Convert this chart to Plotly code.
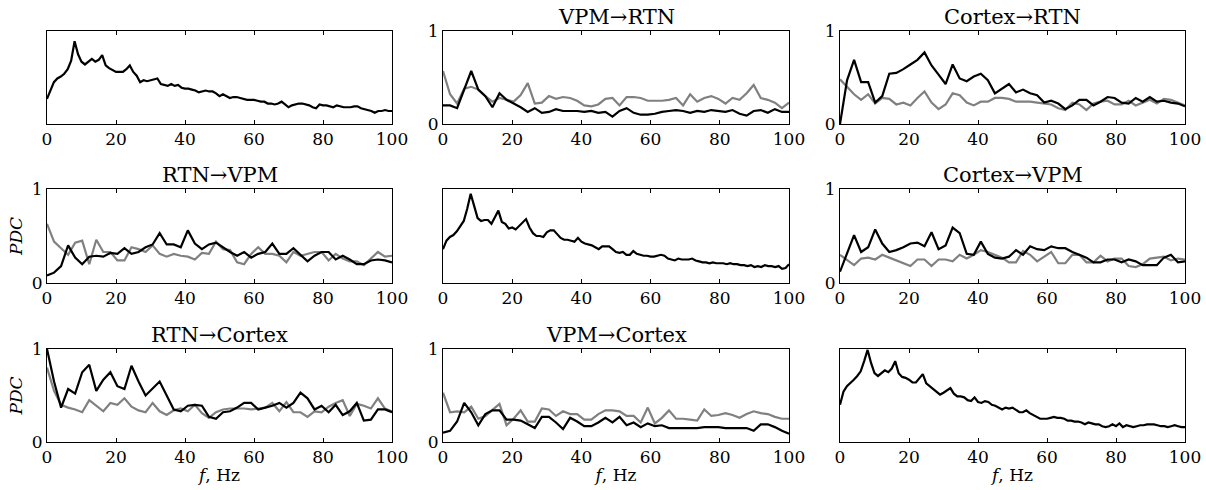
import numpy as np
import plotly.graph_objects as go

# ---------------------------------------------------------------
# data
# ---------------------------------------------------------------
freq_spec = np.arange(0, 101)          # 1 Hz grid for the spectra
freq_pdc = np.linspace(0, 100, 50)     # PDC frequency grid

# power spectra on the diagonal (normalised, no y scale shown)
spec_vpm = [0.27, 0.37, 0.45, 0.49, 0.51, 0.54, 0.59, 0.68, 0.89, 0.75,
            0.67, 0.64, 0.67, 0.70, 0.67, 0.69, 0.74, 0.63, 0.60, 0.58,
            0.56, 0.56, 0.56, 0.59, 0.63, 0.56, 0.52, 0.45, 0.47, 0.46,
            0.47, 0.48, 0.49, 0.43, 0.42, 0.41, 0.43, 0.41, 0.42, 0.39,
            0.38, 0.38, 0.37, 0.36, 0.34, 0.35, 0.36, 0.35, 0.35, 0.33,
            0.30, 0.32, 0.30, 0.28, 0.29, 0.29, 0.28, 0.27, 0.26, 0.26,
            0.26, 0.25, 0.24, 0.24, 0.22, 0.22, 0.21, 0.22, 0.24, 0.21,
            0.18, 0.20, 0.21, 0.22, 0.22, 0.21, 0.20, 0.18, 0.17, 0.21,
            0.20, 0.20, 0.19, 0.18, 0.20, 0.19, 0.18, 0.18, 0.18, 0.19,
            0.19, 0.17, 0.16, 0.15, 0.14, 0.12, 0.14, 0.14, 0.15, 0.14,
            0.14]
spec_rtn = [0.36, 0.45, 0.49, 0.51, 0.55, 0.61, 0.66, 0.79, 0.95, 0.82,
            0.69, 0.66, 0.67, 0.67, 0.63, 0.70, 0.77, 0.65, 0.63, 0.58,
            0.59, 0.57, 0.61, 0.64, 0.68, 0.59, 0.53, 0.50, 0.50, 0.49,
            0.54, 0.56, 0.56, 0.52, 0.48, 0.46, 0.46, 0.45, 0.44, 0.48,
            0.44, 0.42, 0.41, 0.40, 0.38, 0.36, 0.39, 0.39, 0.39, 0.36,
            0.33, 0.32, 0.33, 0.30, 0.30, 0.34, 0.31, 0.30, 0.29, 0.29,
            0.28, 0.28, 0.29, 0.30, 0.29, 0.26, 0.25, 0.24, 0.26, 0.25,
            0.25, 0.25, 0.26, 0.24, 0.23, 0.22, 0.22, 0.21, 0.22, 0.21,
            0.21, 0.21, 0.20, 0.21, 0.20, 0.20, 0.19, 0.19, 0.18, 0.19,
            0.17, 0.18, 0.17, 0.19, 0.18, 0.18, 0.17, 0.18, 0.15, 0.16,
            0.20]
spec_ctx = [0.40, 0.54, 0.60, 0.63, 0.67, 0.71, 0.76, 0.87, 0.99, 0.85,
            0.74, 0.71, 0.74, 0.77, 0.75, 0.79, 0.87, 0.74, 0.70, 0.69,
            0.67, 0.64, 0.64, 0.69, 0.73, 0.63, 0.60, 0.57, 0.54, 0.51,
            0.53, 0.56, 0.58, 0.52, 0.49, 0.49, 0.48, 0.45, 0.44, 0.48,
            0.43, 0.42, 0.44, 0.43, 0.40, 0.39, 0.37, 0.35, 0.37, 0.36,
            0.37, 0.34, 0.32, 0.32, 0.34, 0.31, 0.29, 0.27, 0.25, 0.25,
            0.25, 0.26, 0.27, 0.26, 0.26, 0.25, 0.23, 0.23, 0.22, 0.22,
            0.21, 0.19, 0.21, 0.20, 0.19, 0.19, 0.17, 0.16, 0.17, 0.19,
            0.17, 0.20, 0.16, 0.18, 0.17, 0.16, 0.17, 0.18, 0.18, 0.19,
            0.19, 0.19, 0.18, 0.17, 0.17, 0.16, 0.17, 0.18, 0.17, 0.16,
            0.16]

# PDC, black = model, gray = reference
vpm_rtn_black = [0.20, 0.20, 0.17, 0.38, 0.57, 0.37, 0.30, 0.18, 0.33, 0.26,
                 0.22, 0.18, 0.13, 0.17, 0.12, 0.13, 0.16, 0.14, 0.14, 0.14,
                 0.13, 0.14, 0.12, 0.13, 0.08, 0.14, 0.17, 0.12, 0.10, 0.10,
                 0.11, 0.13, 0.14, 0.15, 0.14, 0.12, 0.14, 0.13, 0.15, 0.14,
                 0.13, 0.15, 0.11, 0.09, 0.14, 0.15, 0.12, 0.16, 0.13, 0.13]
vpm_rtn_gray = [0.57, 0.32, 0.22, 0.38, 0.40, 0.37, 0.30, 0.24, 0.28, 0.26,
                0.24, 0.31, 0.44, 0.22, 0.23, 0.30, 0.27, 0.29, 0.28, 0.25,
                0.20, 0.19, 0.21, 0.27, 0.28, 0.20, 0.29, 0.29, 0.28, 0.25,
                0.25, 0.25, 0.26, 0.28, 0.20, 0.32, 0.24, 0.28, 0.30, 0.27,
                0.22, 0.28, 0.26, 0.33, 0.42, 0.28, 0.26, 0.23, 0.17, 0.23]

ctx_rtn_black = [0.00, 0.47, 0.69, 0.45, 0.45, 0.23, 0.30, 0.54, 0.55, 0.59,
                 0.64, 0.69, 0.77, 0.63, 0.53, 0.43, 0.64, 0.49, 0.46, 0.51,
                 0.54, 0.47, 0.33, 0.38, 0.43, 0.34, 0.37, 0.33, 0.31, 0.23,
                 0.25, 0.22, 0.16, 0.20, 0.26, 0.26, 0.20, 0.24, 0.29, 0.28,
                 0.23, 0.22, 0.28, 0.24, 0.29, 0.24, 0.25, 0.23, 0.22, 0.19]
ctx_rtn_gray = [0.48, 0.40, 0.32, 0.26, 0.32, 0.22, 0.28, 0.27, 0.21, 0.23,
                0.20, 0.28, 0.35, 0.23, 0.16, 0.21, 0.33, 0.31, 0.23, 0.20,
                0.24, 0.24, 0.28, 0.28, 0.27, 0.24, 0.24, 0.24, 0.23, 0.22,
                0.21, 0.17, 0.15, 0.23, 0.21, 0.15, 0.22, 0.24, 0.25, 0.21,
                0.21, 0.25, 0.20, 0.23, 0.26, 0.22, 0.27, 0.26, 0.23, 0.20]

rtn_vpm_black = [0.08, 0.11, 0.18, 0.40, 0.27, 0.20, 0.28, 0.29, 0.28, 0.32,
                 0.31, 0.37, 0.31, 0.33, 0.38, 0.41, 0.53, 0.41, 0.41, 0.38,
                 0.56, 0.42, 0.36, 0.41, 0.43, 0.38, 0.33, 0.29, 0.33, 0.27,
                 0.31, 0.33, 0.42, 0.31, 0.31, 0.37, 0.30, 0.23, 0.29, 0.33,
                 0.33, 0.25, 0.29, 0.25, 0.20, 0.20, 0.24, 0.25, 0.24, 0.22]
rtn_vpm_gray = [0.63, 0.44, 0.37, 0.30, 0.43, 0.45, 0.20, 0.46, 0.33, 0.33,
                0.24, 0.24, 0.38, 0.36, 0.33, 0.40, 0.31, 0.28, 0.31, 0.29,
                0.28, 0.25, 0.32, 0.31, 0.44, 0.36, 0.35, 0.22, 0.20, 0.31,
                0.38, 0.31, 0.31, 0.29, 0.22, 0.33, 0.29, 0.31, 0.33, 0.33,
                0.24, 0.31, 0.26, 0.23, 0.23, 0.19, 0.26, 0.33, 0.28, 0.29]

ctx_vpm_black = [0.12, 0.32, 0.51, 0.33, 0.38, 0.57, 0.42, 0.33, 0.35, 0.38,
                 0.42, 0.43, 0.39, 0.54, 0.36, 0.40, 0.59, 0.53, 0.31, 0.30,
                 0.44, 0.31, 0.27, 0.26, 0.28, 0.35, 0.30, 0.39, 0.36, 0.35,
                 0.39, 0.37, 0.37, 0.33, 0.30, 0.27, 0.22, 0.22, 0.25, 0.25,
                 0.22, 0.25, 0.23, 0.19, 0.19, 0.19, 0.27, 0.30, 0.22, 0.23]
ctx_vpm_gray = [0.30, 0.24, 0.19, 0.26, 0.27, 0.25, 0.30, 0.27, 0.24, 0.21,
                0.18, 0.25, 0.25, 0.18, 0.25, 0.25, 0.23, 0.30, 0.26, 0.30,
                0.35, 0.33, 0.30, 0.27, 0.22, 0.22, 0.34, 0.30, 0.23, 0.28,
                0.33, 0.21, 0.21, 0.30, 0.30, 0.22, 0.22, 0.29, 0.23, 0.26,
                0.26, 0.18, 0.17, 0.20, 0.26, 0.27, 0.28, 0.24, 0.26, 0.25]

rtn_ctx_black = [1.00, 0.65, 0.37, 0.57, 0.52, 0.75, 0.83, 0.55, 0.67, 0.75,
                 0.60, 0.57, 0.82, 0.65, 0.50, 0.57, 0.65, 0.50, 0.35, 0.33,
                 0.39, 0.40, 0.39, 0.27, 0.25, 0.32, 0.33, 0.37, 0.42, 0.42,
                 0.35, 0.37, 0.39, 0.42, 0.37, 0.42, 0.53, 0.47, 0.35, 0.39,
                 0.32, 0.40, 0.29, 0.33, 0.42, 0.23, 0.24, 0.35, 0.35, 0.32]
rtn_ctx_gray = [0.80, 0.55, 0.40, 0.37, 0.35, 0.32, 0.45, 0.39, 0.33, 0.42,
                0.40, 0.47, 0.38, 0.34, 0.32, 0.42, 0.33, 0.29, 0.34, 0.36,
                0.33, 0.40, 0.31, 0.26, 0.32, 0.35, 0.36, 0.36, 0.36, 0.35,
                0.36, 0.37, 0.42, 0.33, 0.43, 0.32, 0.32, 0.27, 0.33, 0.32,
                0.38, 0.42, 0.45, 0.28, 0.41, 0.39, 0.36, 0.47, 0.36, 0.33]

vpm_ctx_black = [0.10, 0.12, 0.22, 0.42, 0.32, 0.18, 0.30, 0.34, 0.34, 0.24,
                 0.24, 0.23, 0.19, 0.15, 0.27, 0.27, 0.21, 0.14, 0.26, 0.22,
                 0.17, 0.17, 0.21, 0.26, 0.21, 0.27, 0.18, 0.21, 0.16, 0.20,
                 0.17, 0.18, 0.15, 0.15, 0.15, 0.15, 0.15, 0.16, 0.16, 0.16,
                 0.15, 0.15, 0.15, 0.15, 0.12, 0.19, 0.19, 0.16, 0.12, 0.09]
vpm_ctx_gray = [0.53, 0.32, 0.33, 0.32, 0.38, 0.25, 0.28, 0.35, 0.41, 0.18,
                0.25, 0.34, 0.22, 0.22, 0.36, 0.35, 0.28, 0.33, 0.30, 0.30,
                0.24, 0.24, 0.30, 0.34, 0.34, 0.33, 0.28, 0.28, 0.21, 0.37,
                0.20, 0.26, 0.34, 0.25, 0.25, 0.24, 0.23, 0.35, 0.28, 0.29,
                0.31, 0.29, 0.26, 0.30, 0.33, 0.31, 0.30, 0.27, 0.25, 0.25]

x_ticks = [0, 20, 40, 60, 80, 100]

# ---------------------------------------------------------------
# grid layout: (row, col) -> panel content
# ---------------------------------------------------------------
W, H = 1206, 490
col_px = [(47, 392), (443, 789), (840, 1185)]
row_px = [(31, 124), (189, 283), (349, 442)]

panels = {
    (0, 0): ("", spec_vpm, None),
    (0, 1): ("VPM→RTN", vpm_rtn_black, vpm_rtn_gray),
    (0, 2): ("Cortex→RTN", ctx_rtn_black, ctx_rtn_gray),
    (1, 0): ("RTN→VPM", rtn_vpm_black, rtn_vpm_gray),
    (1, 1): ("", spec_rtn, None),
    (1, 2): ("Cortex→VPM", ctx_vpm_black, ctx_vpm_gray),
    (2, 0): ("RTN→Cortex", rtn_ctx_black, rtn_ctx_gray),
    (2, 1): ("VPM→Cortex", vpm_ctx_black, vpm_ctx_gray),
    (2, 2): ("", spec_ctx, None),
}

FONT = "DejaVu Serif"
TICK_SIZE = 17
fig = go.Figure()
annotations = []

k = 0
for (r, c), (title, black, gray) in panels.items():
    k += 1
    xa = "x" if k == 1 else f"x{k}"
    ya = "y" if k == 1 else f"y{k}"
    is_spec = gray is None

    if is_spec:
        fig.add_trace(go.Scatter(x=freq_spec, y=black, mode="lines",
                                 line=dict(color="black", width=2.2),
                                 xaxis=xa, yaxis=ya, showlegend=False))
    else:
        fig.add_trace(go.Scatter(x=freq_pdc, y=gray, mode="lines",
                                 line=dict(color="#808080", width=2.2),
                                 xaxis=xa, yaxis=ya, showlegend=False))
        fig.add_trace(go.Scatter(x=freq_pdc, y=black, mode="lines",
                                 line=dict(color="black", width=2.2),
                                 xaxis=xa, yaxis=ya, showlegend=False))

    x0, x1 = col_px[c]
    y0, y1 = row_px[r]
    xdom = [x0 / W, x1 / W]
    ydom = [1 - y1 / H, 1 - y0 / H]

    xaxis = dict(domain=xdom, anchor=ya, range=[0, 100], tickvals=x_ticks,
                 ticks="inside", ticklen=4, tickcolor="black",
                 showline=True, linecolor="black", linewidth=1,
                 mirror="ticks", showgrid=False, zeroline=False,
                 automargin=False,
                 tickfont=dict(family=FONT, size=TICK_SIZE, color="black"))
    yaxis = dict(domain=ydom, anchor=xa, range=[0, 1],
                 showline=True, linecolor="black", linewidth=1,
                 mirror=True, showgrid=False, zeroline=False,
                 automargin=False,
                 tickfont=dict(family=FONT, size=TICK_SIZE, color="black"))
    if is_spec:
        yaxis.update(showticklabels=False, ticks="")
    else:
        yaxis.update(tickvals=[0, 1], ticktext=["0", "1"], ticks="inside",
                     ticklen=4, tickcolor="black", mirror="ticks")
    if r == 2:
        xaxis["title"] = dict(text="<i>f</i>, Hz", standoff=2,
                              font=dict(family=FONT, size=TICK_SIZE, color="black"))
    if c == 0 and r > 0:
        yaxis["title"] = dict(text="<i>PDC</i>", standoff=4,
                              font=dict(family=FONT, size=TICK_SIZE, color="black"))

    fig.update_layout({f"xaxis{'' if k == 1 else k}": xaxis,
                       f"yaxis{'' if k == 1 else k}": yaxis})

    if title:
        annotations.append(dict(text=title, x=(xdom[0] + xdom[1]) / 2,
                                y=ydom[1], xref="paper", yref="paper",
                                xanchor="center", yanchor="bottom", yshift=0,
                                showarrow=False,
                                font=dict(family=FONT, size=21, color="black")))

fig.update_layout(
    width=W,
    height=H,
    margin=dict(l=0, r=0, t=0, b=0),
    paper_bgcolor="white",
    plot_bgcolor="white",
    annotations=annotations,
)

# drop the browser's default 8px body margin so the figure fills the window
fig.write_html("out.html",
               config={"displayModeBar": False},
               post_script="document.body.style.margin='0';"
                           "document.body.style.overflow='hidden';")
